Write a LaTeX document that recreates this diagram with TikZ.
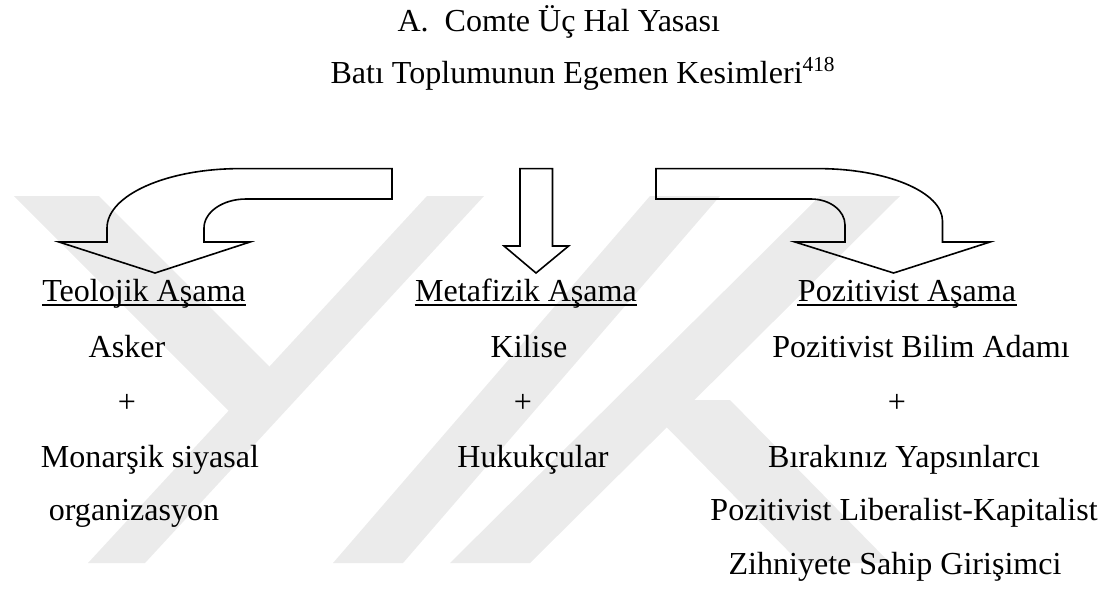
\documentclass[tikz,border=0pt]{standalone}
\usepackage{fontspec}
\setmainfont{Liberation Serif}
\begin{document}
\begin{tikzpicture}[x=0.3745pt, y=-0.3745pt,
    lbl/.style={font=\fontsize{12}{14}\selectfont, inner sep=0pt, anchor=base},
    blockarrow/.style={draw, line width=0.6pt, line join=miter},
    wmark/.style={fill=black!8}]
    \useasboundingbox (0,0) rectangle (1105,590);

    % Watermark bands
    \fill[wmark] (88,563) -- (145,563) -- (484,196) -- (427,196) -- cycle;
    \fill[wmark] (14,196) -- (99,196) -- (298,395) -- (258,440) -- cycle;
    \fill[wmark] (333,563) -- (403,563) -- (720,196) -- (650,196) -- cycle;
    \fill[wmark] (450,563) -- (530,563) -- (900,196) -- (820,196) -- cycle;
    \fill[wmark] (640,400) -- (730,400) -- (890,563) -- (800,563) -- cycle;

    % Title
    \node[lbl, anchor=base west] (title) at (397,31) {A.\ \ Comte Üç Hal Yasası};
    \node[lbl, anchor=base west] (subtitle) at (330,83) {Batı Toplumunun Egemen Kesimleri\textsuperscript{418}};

    % Left arrow
    \draw[blockarrow] (392,168.6) -- (240,168.6)
        .. controls (166.5,168.6) and (107,195.2) .. (107,228)
        -- (107,242) -- (59,242) -- (155,273) -- (250,242) -- (204,242) -- (204,228)
        .. controls (204,212) and (222.8,199) .. (246,199)
        -- (392,199) -- cycle;

    % Middle arrow
    \draw[blockarrow] (520,168.6) -- (552.5,168.6) -- (552.5,246) -- (568.6,246)
        -- (536,273) -- (504,246) -- (520,246) -- cycle;

    % Right arrow
    \draw[blockarrow] (656,168.6) -- (818,168.6)
        .. controls (886.8,168.6) and (942.5,192) .. (942.5,221)
        -- (942.5,242) -- (990,242) -- (893.6,273) -- (795,242) -- (845,242) -- (845,225)
        .. controls (845,210.6) and (829.8,199) .. (811,199)
        -- (656,199) -- cycle;

    % Teolojik
    \node[lbl] (teo) at (144,301) {Teolojik Aşama};
    \draw[line width=0.6pt] ([yshift=-1.6pt]teo.base west) -- ([yshift=-1.6pt]teo.base east);
    \node[lbl] (teoA) at (127,357) {Asker};
    \node[lbl] (teoP) at (127,412) {+};
    \node[lbl] (teoB) at (150,467) {Monarşik siyasal};
    \node[lbl] (teoC) at (134,520) {organizasyon};

    % Metafizik
    \node[lbl] (met) at (526,301) {Metafizik Aşama};
    \draw[line width=0.6pt] ([yshift=-1.6pt]met.base west) -- ([yshift=-1.6pt]met.base east);
    \node[lbl] (metA) at (529,357) {Kilise};
    \node[lbl] (metP) at (523,412) {+};
    \node[lbl] (metB) at (533,467) {Hukukçular};

    % Pozitivist
    \node[lbl] (poz) at (907,301) {Pozitivist Aşama};
    \draw[line width=0.6pt] ([yshift=-1.6pt]poz.base west) -- ([yshift=-1.6pt]poz.base east);
    \node[lbl] (pozA) at (921,357) {Pozitivist Bilim Adamı};
    \node[lbl] (pozP) at (897,412) {+};
    \node[lbl] (pozB) at (904,467) {Bırakınız Yapsınlarcı};
    \node[lbl] (pozC) at (904,520) {Pozitivist Liberalist-Kapitalist};
    \node[lbl] (pozD) at (895,574) {Zihniyete Sahip Girişimci};
\end{tikzpicture}
\end{document}
